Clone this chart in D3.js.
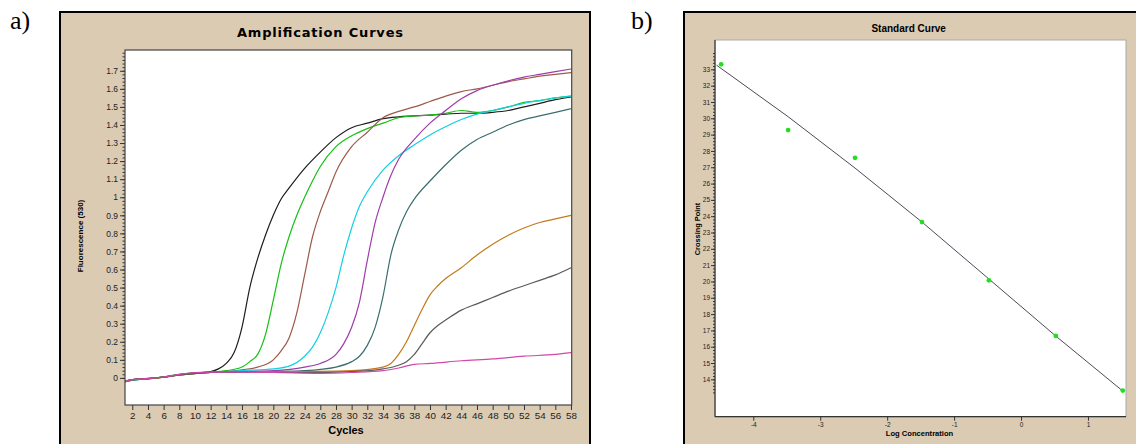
<!DOCTYPE html>
<html>
<head>
<meta charset="utf-8">
<script src="https://cdn.jsdelivr.net/npm/d3@7"></script>
<style>
  body { margin: 0; background: #fff; }
  svg { display: block; }
  .tick text { font-family: "Liberation Sans", Arial, sans-serif; fill: #222; }
  .axis path, .axis line { stroke: #333; }
</style>
</head>
<body>
<svg width="1136" height="444"></svg>
<script>
// ---- panel a: amplification curves, [cycle, fluorescence]
const curveBlack = [[1,-0.02],[2,-0.012],[4,-0.004],[6,0.004],[8,0.018],[10,0.027],[12,0.035],[13,0.05],[14,0.08],[15,0.14],[16,0.28],[17,0.50],[18,0.66],[19,0.79],[20,0.90],[21,0.99],[22,1.05],[24,1.16],[26,1.25],[28,1.33],[30,1.385],[32,1.41],[34,1.435],[36,1.445],[38,1.45],[40,1.455],[42,1.46],[44,1.465],[46,1.465],[48,1.47],[50,1.48],[52,1.50],[54,1.52],[56,1.54],[58,1.555]];
const curveGreen = [[1,-0.025],[2,-0.01],[4,-0.003],[6,0.006],[8,0.02],[10,0.028],[12,0.032],[14,0.04],[16,0.06],[17,0.09],[18,0.13],[19,0.24],[20,0.43],[21,0.63],[22,0.78],[23,0.90],[24,1.00],[25,1.09],[26,1.17],[28,1.28],[30,1.34],[32,1.38],[34,1.41],[36,1.44],[38,1.45],[40,1.455],[42,1.465],[44,1.48],[46,1.47],[48,1.48],[50,1.50],[52,1.525],[54,1.535],[56,1.55],[58,1.56]];
const curveBrown = [[1,-0.02],[2,-0.01],[4,-0.005],[6,0.004],[8,0.017],[10,0.026],[12,0.03],[16,0.045],[18,0.06],[20,0.10],[21,0.15],[22,0.22],[23,0.36],[24,0.57],[25,0.78],[26,0.92],[27,1.03],[28,1.14],[30,1.28],[32,1.36],[34,1.44],[36,1.475],[38,1.50],[40,1.53],[42,1.56],[44,1.585],[46,1.60],[48,1.62],[50,1.64],[52,1.655],[54,1.67],[56,1.68],[58,1.69]];
const curveCyan = [[1,-0.02],[2,-0.012],[4,-0.004],[6,0.005],[8,0.018],[10,0.025],[12,0.03],[16,0.04],[20,0.05],[22,0.065],[24,0.12],[25,0.17],[26,0.25],[27,0.36],[28,0.50],[29,0.68],[30,0.83],[31,0.95],[32,1.03],[34,1.15],[36,1.23],[38,1.29],[40,1.345],[42,1.39],[44,1.43],[46,1.46],[48,1.48],[50,1.50],[52,1.52],[54,1.535],[56,1.55],[58,1.56]];
const curvePurple = [[1,-0.02],[2,-0.01],[4,-0.004],[6,0.004],[8,0.018],[10,0.026],[12,0.03],[20,0.04],[24,0.06],[26,0.08],[28,0.13],[29,0.19],[30,0.28],[31,0.42],[32,0.65],[33,0.86],[34,1.00],[35,1.12],[36,1.21],[38,1.32],[40,1.41],[42,1.48],[44,1.545],[46,1.59],[48,1.62],[50,1.645],[52,1.665],[54,1.68],[56,1.695],[58,1.71]];
const curveTeal = [[1,-0.022],[2,-0.012],[4,-0.004],[6,0.005],[8,0.017],[10,0.025],[12,0.03],[20,0.035],[24,0.04],[28,0.06],[30,0.09],[31,0.12],[32,0.18],[33,0.28],[34,0.45],[35,0.68],[36,0.82],[37,0.92],[38,0.99],[40,1.09],[42,1.18],[44,1.26],[46,1.32],[48,1.36],[50,1.40],[52,1.43],[54,1.45],[56,1.47],[58,1.49]];
const curveOrange = [[1,-0.02],[2,-0.01],[4,-0.005],[6,0.004],[8,0.016],[10,0.024],[12,0.03],[24,0.035],[30,0.04],[34,0.06],[35,0.08],[36,0.13],[37,0.20],[38,0.29],[39,0.38],[40,0.46],[41,0.51],[42,0.55],[44,0.61],[46,0.68],[48,0.74],[50,0.79],[52,0.83],[54,0.86],[56,0.88],[58,0.90]];
const curveGray = [[1,-0.018],[2,-0.01],[4,-0.004],[6,0.004],[8,0.016],[10,0.024],[12,0.03],[24,0.03],[30,0.035],[34,0.05],[36,0.07],[37,0.09],[38,0.13],[39,0.19],[40,0.25],[41,0.29],[42,0.32],[44,0.375],[46,0.41],[48,0.445],[50,0.48],[52,0.51],[54,0.54],[56,0.57],[58,0.61]];
const curvePink = [[1,-0.02],[2,-0.01],[4,-0.003],[6,0.005],[8,0.02],[10,0.03],[12,0.032],[20,0.03],[26,0.025],[30,0.03],[34,0.04],[36,0.055],[38,0.075],[40,0.08],[44,0.095],[48,0.105],[52,0.12],[56,0.13],[58,0.14]];

const ampSeries = [curveBlack, curveGreen, curveBrown, curveCyan, curvePurple, curveTeal, curveOrange, curveGray, curvePink];
const ampColors = ["#1e1e1e", "#14c014", "#9b5a4a", "#12d0e0", "#a03ca8", "#3a6e6e", "#c27a1c", "#5a5a5a", "#d048a8"];

const fluorTicks = [0, 0.1, 0.2, 0.3, 0.4, 0.5, 0.6, 0.7, 0.8, 0.9, 1, 1.1, 1.2, 1.3, 1.4, 1.5, 1.6, 1.7];
const cycleTicks = [2, 4, 6, 8, 10, 12, 14, 16, 18, 20, 22, 24, 26, 28, 30, 32, 34, 36, 38, 40, 42, 44, 46, 48, 50, 52, 54, 56, 58];

// ---- panel b: standard curve
const logConc = [-4.48, -3.48, -2.48, -1.48, -0.48, 0.52, 1.52];
const crossingPt = [33.31, 29.28, 27.58, 23.64, 20.07, 16.66, 13.31];
const fitLogConc = [-4.55, -3.48, -2.48, -1.48, -0.48, 0.52, 1.50];
const fitCp = [33.26, 30.1, 26.95, 23.64, 20.15, 16.65, 13.35];

const cpTicks = [14, 15, 16, 17, 18, 19, 20, 21, 22, 23, 24, 25, 26, 27, 28, 29, 30, 31, 32, 33];
const logTicks = [-4, -3, -2, -1, 0, 1];

const beige = "#dccbb3";
const svg = d3.select("svg");

// panel backgrounds
svg.append("rect").attr("x", 60).attr("y", 12).attr("width", 530).attr("height", 440)
    .attr("fill", beige).attr("stroke", "#000").attr("stroke-width", 2);
svg.append("rect").attr("x", 684).attr("y", 12).attr("width", 470).attr("height", 440)
    .attr("fill", beige).attr("stroke", "#000").attr("stroke-width", 2);

svg.append("text").attr("x", 10).attr("y", 29).text("a)")
    .style("font-family", "Liberation Serif, Times New Roman, serif").style("font-size", "26px");
svg.append("text").attr("x", 631).attr("y", 29).text("b)")
    .style("font-family", "Liberation Serif, Times New Roman, serif").style("font-size", "26px");

// ===== panel a =====
const A = {left: 125, right: 571.7, top: 50, bottom: 405};
const xA = d3.scaleLinear().domain([1.07, 58.09]).range([A.left, A.right]);
const yA = d3.scaleLinear().domain([-0.15, 1.815]).range([A.bottom, A.top]);

svg.append("rect").attr("x", A.left).attr("y", A.top)
    .attr("width", A.right - A.left).attr("height", A.bottom - A.top).attr("fill", "#fff");

svg.append("clipPath").attr("id", "clipA").append("rect")
    .attr("x", A.left).attr("y", A.top).attr("width", A.right - A.left).attr("height", A.bottom - A.top);

const lineA = d3.line().x(d => xA(d[0])).y(d => yA(d[1])).curve(d3.curveMonotoneX);
const curves = svg.append("g").attr("clip-path", "url(#clipA)");
ampSeries.forEach((s, i) => {
    curves.append("path")
        .attr("d", lineA(s))
        .attr("fill", "none")
        .attr("stroke", ampColors[i])
        .attr("stroke-width", 1.2);
});

// y axis a
svg.append("g").attr("class", "axis").attr("transform", `translate(${A.left},0)`)
    .call(d3.axisLeft(yA).tickValues(d3.range(0, 1.81, 0.02)).tickSize(2.5).tickFormat(""))
    .call(g => g.select(".domain").remove());
svg.append("g").attr("class", "axis").attr("transform", `translate(${A.left},0)`)
    .call(d3.axisLeft(yA).tickValues(fluorTicks).tickSize(5).tickPadding(2).tickFormat(d3.format("~g")))
    .call(g => g.select(".domain").remove())
    .selectAll("text").style("font-size", "8.5px");

// x axis a
svg.append("g").attr("class", "axis").attr("transform", `translate(0,${A.bottom})`)
    .call(d3.axisBottom(xA).tickValues(cycleTicks).tickSize(5).tickPadding(2))
    .call(g => g.select(".domain").remove())
    .selectAll("text").style("font-size", "9.8px");

svg.append("rect").attr("x", A.left).attr("y", A.top)
    .attr("width", A.right - A.left).attr("height", A.bottom - A.top)
    .attr("fill", "none").attr("stroke", "#444").attr("stroke-width", 1.2);

svg.append("text").attr("x", 320).attr("y", 37).attr("text-anchor", "middle")
    .attr("textLength", 166).attr("lengthAdjust", "spacing")
    .style("font-family", "DejaVu Sans, Verdana, sans-serif").style("font-weight", "bold").style("font-size", "13px")
    .text("Amplification Curves");
svg.append("text").attr("x", 346).attr("y", 433.5).attr("text-anchor", "middle")
    .style("font-family", "Liberation Sans, Arial, sans-serif").style("font-weight", "bold").style("font-size", "11px")
    .text("Cycles");
svg.append("text").attr("transform", "translate(83,236) rotate(-90)").attr("text-anchor", "middle")
    .style("font-family", "Liberation Sans, Arial, sans-serif").style("font-weight", "bold").style("font-size", "8px")
    .text("Fluorescence (530)");

// ===== panel b =====
const B = {left: 715, right: 1126, top: 40, bottom: 416.7};
const xB = d3.scaleLinear().domain([-4.572, 1.568]).range([B.left, B.right]);
const yB = d3.scaleLinear().domain([11.71, 34.8]).range([B.bottom, B.top]);

svg.append("rect").attr("x", B.left).attr("y", B.top)
    .attr("width", B.right - B.left).attr("height", B.bottom - B.top)
    .attr("fill", "#fff").attr("stroke", "#aaa").attr("stroke-width", 1);

svg.append("g").attr("class", "axis").attr("transform", `translate(${B.left},0)`)
    .call(d3.axisLeft(yB).tickValues(d3.range(13.2, 34.01, 0.2)).tickSize(2).tickFormat(""))
    .call(g => g.select(".domain").remove());
svg.append("g").attr("class", "axis").attr("transform", `translate(${B.left},0)`)
    .call(d3.axisLeft(yB).tickValues(cpTicks).tickSize(4).tickPadding(1).tickFormat(d3.format("d")))
    .call(g => g.select(".domain").remove())
    .selectAll("text").style("font-size", "6.5px");

svg.append("g").attr("class", "axis").attr("transform", `translate(0,${B.bottom})`)
    .call(d3.axisBottom(xB).tickValues(logTicks).tickSize(4).tickPadding(2).tickFormat(d => d < 0 ? "-" + (-d) : d))
    .call(g => g.select(".domain").remove())
    .selectAll("text").style("font-size", "6.5px");

svg.append("line").attr("x1", B.left).attr("x2", B.left).attr("y1", B.top).attr("y2", B.bottom)
    .attr("stroke", "#333").attr("stroke-width", 1.2);
svg.append("line").attr("x1", B.left).attr("x2", B.right).attr("y1", B.bottom).attr("y2", B.bottom)
    .attr("stroke", "#333").attr("stroke-width", 1.2);

const lineB = d3.line().x(d => xB(d[0])).y(d => yB(d[1]));
svg.append("path")
    .attr("d", lineB(fitLogConc.map((v, i) => [v, fitCp[i]])))
    .attr("fill", "none").attr("stroke", "#4a4a58").attr("stroke-width", 1);

svg.append("g").selectAll("circle").data(logConc).join("circle")
    .attr("cx", d => xB(d))
    .attr("cy", (d, i) => yB(crossingPt[i]))
    .attr("r", 2.4)
    .attr("fill", "#22dd22");

svg.append("text").attr("x", 908.7).attr("y", 32.3).attr("text-anchor", "middle")
    .style("font-family", "Liberation Sans, Arial, sans-serif").style("font-weight", "bold").style("font-size", "10px")
    .text("Standard Curve");
svg.append("text").attr("x", 919.5).attr("y", 436).attr("text-anchor", "middle")
    .style("font-family", "Liberation Sans, Arial, sans-serif").style("font-weight", "bold").style("font-size", "7.6px")
    .text("Log Concentration");
svg.append("text").attr("transform", "translate(699.5,229) rotate(-90)").attr("text-anchor", "middle")
    .style("font-family", "Liberation Sans, Arial, sans-serif").style("font-weight", "bold").style("font-size", "7.4px")
    .text("Crossing Point");
</script>
</body>
</html>
